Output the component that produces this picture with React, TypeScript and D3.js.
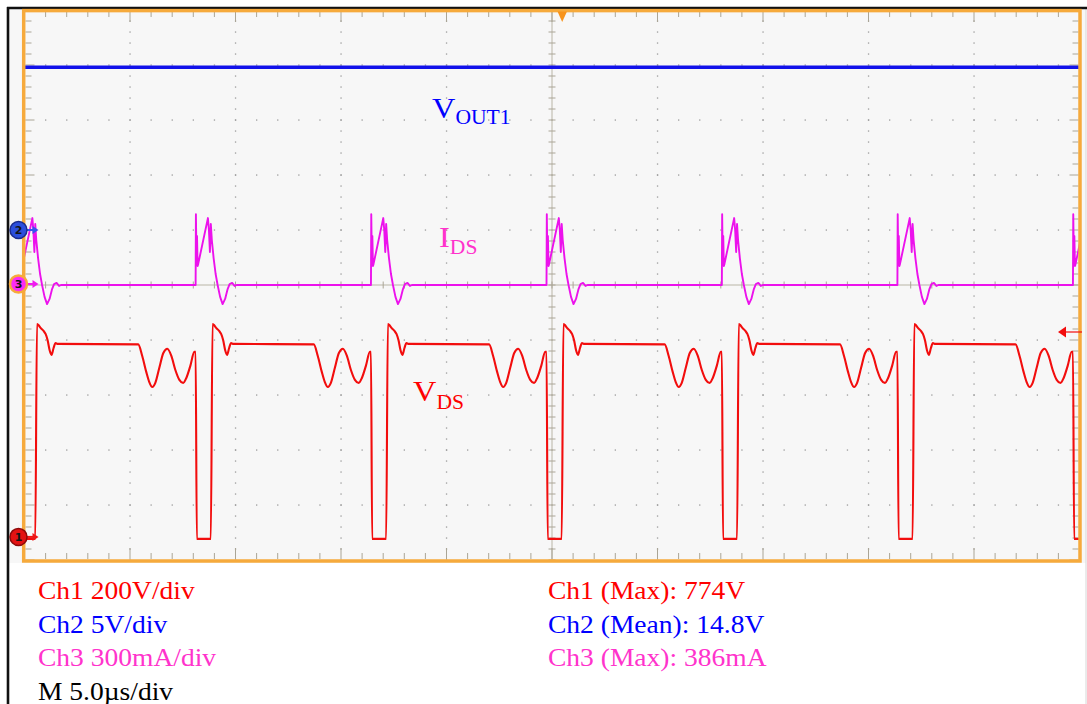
import React from 'react';
import * as d3 from 'd3';

const W = 1087;
const H = 704;

// ---- Time base: 5 µs/div, 10 divisions ----
const timeDomain = [0, 50];
// switch turn-on instants (µs)
const turnOnTimes = [-0.21, 8.11, 16.42, 24.74, 33.05, 41.37, 49.69];

// ---- Ch1: VDS, one switching cycle relative to turn-on (µs, V) ----
const vdsCycleT = [0, 0.057, 0.664, 0.72, 0.801, 0.863, 0.972, 1.114, 1.209, 1.303, 1.398, 1.493, 1.588, 1.682, 1.763, 5.6, 5.79, 5.98, 6.12, 6.27, 6.41, 6.6, 6.79, 6.98, 7.17, 7.36, 7.55, 7.73, 7.88, 8.07, 8.26];
const vdsCycleV = [673, -7, -7, -7, 774, 771, 760, 749, 738, 716, 680, 662, 687, 705, 702, 700, 658, 600, 564, 545, 560, 615, 669, 684, 658, 607, 571, 560, 578, 622, 673];

// ---- Ch3: IDS, one switching cycle relative to turn-on (µs, mA) ----
const idsCycleT = [0, 0.014, 0.043, 0.066, 0.095, 0.123, 0.583, 0.63, 0.678, 0.72, 0.768, 0.853, 0.948, 1.043, 1.161, 1.28, 1.398, 1.517, 1.611, 1.73, 1.848, 1.943];
const idsCycleI = [0, 386, 125, 267, 104, 115, 365, 300, 180, 333, 245, 147, 60, 0, -65, -104, -76, -22, 5, 11, -5, 0];

// ---- Ch2: VOUT1 (µs, V) ----
const voutT = [0, 50];
const voutV = [14.8, 14.8];

// channel scales (units/div) and ground offsets (div from centre)
const ch1PerDiv = 200;
const ch2PerDiv = 5;
const ch3PerDiv = 300;
const ch1Offset = -4.58;
const ch2Offset = 1.0;
const ch3Offset = 0;

const leftTexts = ['Ch1 200V/div', 'Ch2 5V/div', 'Ch3 300mA/div', 'M 5.0µs/div'];
const rightTexts = ['Ch1 (Max): 774V', 'Ch2 (Mean): 14.8V', 'Ch3 (Max): 386mA'];

const RED = '#f20d0d';
const BLUE = '#1212ea';
const MAG = '#ec12ec';
const TXT_RED = '#ff0000';
const TXT_BLUE = '#0000ff';
const TXT_PINK = '#ff33cc';
const ORANGE = '#f6aa3c';
const TICK = '#aaa596';
const SERIF = "'Liberation Serif', 'Times New Roman', serif";
const SX = 1.08;

function buildTrace(starts: number[], dts: number[], vals: number[]) {
  const pts: [number, number][] = [];
  starts.forEach((t0) => {
    dts.forEach((dt, i) => pts.push([t0 + dt, vals[i]]));
  });
  return pts;
}

export default function App() {
  const x = d3.scaleLinear().domain(timeDomain).range([24.5, 1079.5]);
  const yDiv = d3.scaleLinear().domain([-5, 5]).range([560, 10]);
  const y1 = (v: number) => yDiv(ch1Offset + v / ch1PerDiv);
  const y2 = (v: number) => yDiv(ch2Offset + v / ch2PerDiv);
  const y3 = (v: number) => yDiv(ch3Offset + v / ch3PerDiv);

  const vds = buildTrace(turnOnTimes, vdsCycleT, vdsCycleV);
  const ids = buildTrace(turnOnTimes, idsCycleT, idsCycleI);
  const vout = voutT.map((t, i) => [t, voutV[i]] as [number, number]);

  const lineV = d3.line<[number, number]>().x((d) => x(d[0])).y((d) => y1(d[1])).curve(d3.curveMonotoneX);
  const lineI = d3.line<[number, number]>().x((d) => x(d[0])).y((d) => y3(d[1]));
  const lineO = d3.line<[number, number]>().x((d) => x(d[0])).y((d) => y2(d[1]));

  const minorX = d3.range(0, 51, 1);
  const minorY = d3.range(-25, 26, 1).map((k) => k / 5);
  const majorXInner = [5, 10, 15, 20, 30, 35, 40, 45];
  const majorYInner = [-4, -3, -2, -1, 1, 2, 3, 4];

  const dots: JSX.Element[] = [];
  majorXInner.forEach((t) => {
    minorY.forEach((d, j) => {
      dots.push(<rect key={`dv${t}-${j}`} x={x(t) - 0.6} y={yDiv(d) - 0.6} width={1.3} height={1.3} fill="#9c9c9c" />);
    });
  });
  majorYInner.forEach((d) => {
    minorX.forEach((t, j) => {
      dots.push(<rect key={`dh${d}-${j}`} x={x(t) - 0.6} y={yDiv(d) - 0.6} width={1.3} height={1.3} fill="#9c9c9c" />);
    });
  });

  const ticks: JSX.Element[] = [];
  minorX.forEach((t, i) => {
    const major = i % 5 === 0;
    const len = major ? 11 : 6;
    ticks.push(<line key={`tt${i}`} x1={x(t)} x2={x(t)} y1={11} y2={11 + len} stroke={TICK} strokeWidth={1} />);
    ticks.push(<line key={`tb${i}`} x1={x(t)} x2={x(t)} y1={559} y2={559 - len} stroke={TICK} strokeWidth={1} />);
    ticks.push(<line key={`tc${i}`} x1={x(t)} x2={x(t)} y1={yDiv(0) - 3.5} y2={yDiv(0) + 3.5} stroke={TICK} strokeWidth={1} />);
  });
  minorY.forEach((d, i) => {
    const major = i % 5 === 0;
    const len = major ? 9 : 6;
    ticks.push(<line key={`tl${i}`} x1={25.5} x2={25.5 + len} y1={yDiv(d)} y2={yDiv(d)} stroke={TICK} strokeWidth={1} />);
    ticks.push(<line key={`tr${i}`} x1={1078.5} x2={1078.5 - len} y1={yDiv(d)} y2={yDiv(d)} stroke={TICK} strokeWidth={1} />);
    ticks.push(<line key={`tv${i}`} x1={x(25) - 3.5} x2={x(25) + 3.5} y1={yDiv(d)} y2={yDiv(d)} stroke={TICK} strokeWidth={1} />);
  });

  const marker = (cx: number, cy: number, label: string, fill: string, ring: string, ringW: number, arrow: string) => (
    <g key={label}>
      <line x1={cx + 8} x2={cx + 15} y1={cy} y2={cy} stroke={arrow} strokeWidth={2} />
      <polygon points={`${cx + 14},${cy - 4} ${cx + 20},${cy} ${cx + 14},${cy + 4}`} fill={arrow} />
      <circle cx={cx} cy={cy} r={8.5} fill={fill} stroke={ring} strokeWidth={ringW} />
      <text x={cx} y={cy + 4} textAnchor="middle" fontSize={11} fontWeight="bold" fontFamily="'DejaVu Sans', sans-serif" fill="#151515">
        {label}
      </text>
    </g>
  );

  return (
    <svg width={W} height={H} viewBox={`0 0 ${W} ${H}`} style={{ position: 'fixed', left: 0, top: 0, background: '#fff' }}>
      <defs>
        <clipPath id="scr">
          <rect x={24.5} y={10} width={1055} height={550} />
        </clipPath>
      </defs>
      <rect x={0} y={0} width={W} height={H} fill="#ffffff" />
      {/* screen background */}
      <rect x={9} y={9} width={1077} height={554} fill="#f7f7f7" />
      <line x1={1086} x2={1086} y1={9} y2={H} stroke="#d6d6d6" strokeWidth={1} />
      {/* black frame */}
      <line x1={7} x2={W} y1={8} y2={8} stroke="#111" strokeWidth={2.6} />
      <line x1={8} x2={8} y1={7} y2={H} stroke="#111" strokeWidth={2.6} />

      {/* grid */}
      {dots}
      <line x1={x(25)} x2={x(25)} y1={10} y2={560} stroke="#b9b5a6" strokeWidth={1} />
      <line x1={24.5} x2={1079.5} y1={yDiv(0)} y2={yDiv(0)} stroke="#b9b5a6" strokeWidth={1} />
      {ticks}

      {/* traces */}
      <g clipPath="url(#scr)">
        <path d={lineO(vout) || ''} fill="none" stroke={BLUE} strokeWidth={3.6} />
        <path d={lineI(ids) || ''} fill="none" stroke={MAG} strokeWidth={1.9} strokeLinejoin="round" />
        <path d={lineV(vds) || ''} fill="none" stroke={RED} strokeWidth={2.1} strokeLinejoin="round" />
      </g>

      {/* orange frame */}
      <rect x={23.7} y={10.6} width={1056.3} height={550.4} fill="none" stroke={ORANGE} strokeWidth={3.5} />

      {/* trigger markers */}
      <polygon points="557.5,11.5 567,11.5 562.2,22" fill="#f7941d" />
      <polygon points="1058,332 1066,326.5 1066,337.5" fill={RED} />
      <line x1={1065} x2={1082} y1={332} y2={332} stroke={RED} strokeWidth={1.2} />

      {/* channel ground markers */}
      {marker(18.5, y2(0), '2', '#2c4fdc', '#1b2c8c', 1.5, '#3553f0')}
      {marker(18.5, y3(0) - 1, '3', '#fb2cf5', ORANGE, 2.5, '#f01cf0')}
      {marker(18.5, y1(0), '1', '#e31212', '#8c0a0a', 1.5, '#ee1515')}

      {/* trace labels */}
      <text transform={`translate(432,118) scale(${SX},1)`} fontFamily={SERIF} fill={TXT_BLUE}>
        <tspan fontSize={30}>V</tspan>
        <tspan fontSize={20} dy={6}>OUT1</tspan>
      </text>
      <text transform={`translate(439,247) scale(${SX},1)`} fontFamily={SERIF} fill={TXT_PINK}>
        <tspan fontSize={30}>I</tspan>
        <tspan fontSize={20} dy={7}>DS</tspan>
      </text>
      <text transform={`translate(413,401) scale(${SX},1)`} fontFamily={SERIF} fill={TXT_RED}>
        <tspan fontSize={30}>V</tspan>
        <tspan fontSize={20} dy={8}>DS</tspan>
      </text>

      {/* bottom settings */}
      {leftTexts.map((s, i) => (
        <text key={s} transform={`translate(38,${599 + i * 33.5}) scale(${SX},1)`} fontFamily={SERIF} fontSize={25.5}
          fill={[TXT_RED, TXT_BLUE, TXT_PINK, '#000'][i]}>
          {s}
        </text>
      ))}
      {rightTexts.map((s, i) => (
        <text key={s} transform={`translate(548,${599 + i * 33.5}) scale(${SX},1)`} fontFamily={SERIF} fontSize={25.5}
          fill={[TXT_RED, TXT_BLUE, TXT_PINK][i]}>
          {s}
        </text>
      ))}
    </svg>
  );
}
